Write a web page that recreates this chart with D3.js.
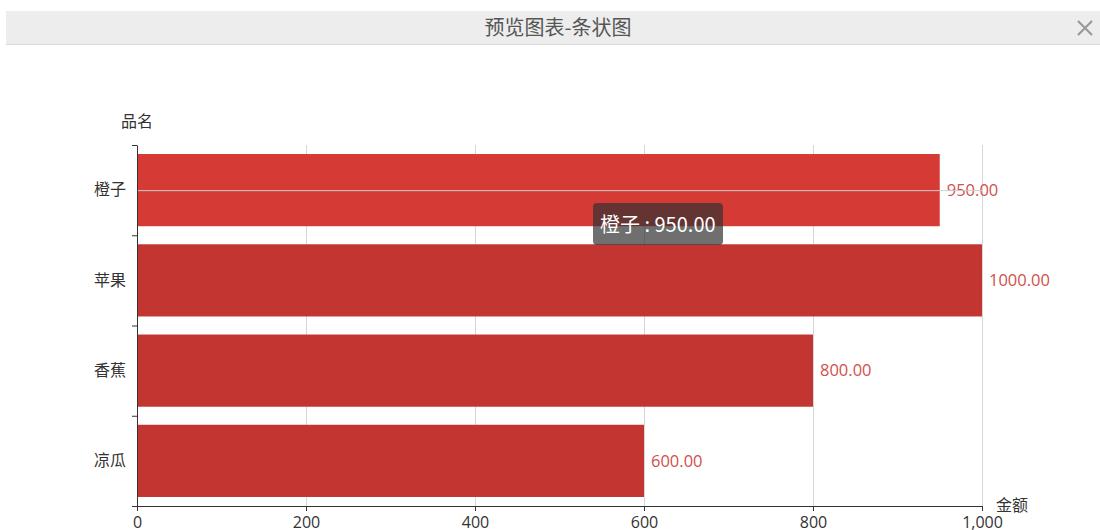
<!DOCTYPE html>
<html lang="zh">
<head>
    <meta charset="UTF-8">
    <title>预览图表-条状图</title>
    <script src="https://d3js.org/d3.v7.min.js"></script>
    <style>
        body { margin: 0; background: #fff; font-family: "Noto Sans CJK SC", "Noto Sans", sans-serif; }
        svg { display: block; }
    </style>
</head>
<body>
<svg id="chart" width="1100" height="530"></svg>
<script>
    // data
    const categories = ["橙子", "苹果", "香蕉", "凉瓜"];
    const amounts = [950, 1000, 800, 600];
    const xTicks = [0, 200, 400, 600, 800, 1000];
    const hoverIndex = 0;

    const svg = d3.select("#chart");
    const plotLeft = 137, plotRight = 982, plotTop = 145, plotBottom = 506;

    // header bar
    svg.append("rect").attr("x", 6).attr("y", 11).attr("width", 1094).attr("height", 33)
        .attr("fill", "#ededed");
    svg.append("line").attr("x1", 6).attr("x2", 1100).attr("y1", 44.5).attr("y2", 44.5)
        .attr("stroke", "#d9d9d9");
    svg.append("text").attr("x", 558).attr("y", 35).attr("text-anchor", "middle")
        .attr("font-size", 20).attr("fill", "#555").text("预览图表-条状图");
    const cx = 1085, cy = 28, s = 7;
    svg.append("path").attr("d", `M${cx - s},${cy - s}L${cx + s},${cy + s}M${cx + s},${cy - s}L${cx - s},${cy + s}`)
        .attr("stroke", "#999").attr("stroke-width", 2.2);

    const x = d3.scaleLinear().domain([0, 1000]).range([plotLeft, plotRight]);
    const y = d3.scaleBand().domain(categories).range([plotTop, plotBottom]).paddingInner(0.2).paddingOuter(0.1);
    const band = d3.scaleBand().domain(categories).range([plotTop, plotBottom]);

    // grid
    svg.append("g").selectAll("line").data(xTicks.slice(1)).join("line")
        .attr("x1", d => x(d) + 0.5).attr("x2", d => x(d) + 0.5)
        .attr("y1", plotTop).attr("y2", plotBottom)
        .attr("stroke", "#d6d6d6");

    // bars
    svg.append("g").selectAll("rect").data(categories).join("rect")
        .attr("x", x(0)).attr("y", d => y(d))
        .attr("width", (d, i) => x(amounts[i]) - x(0))
        .attr("height", y.bandwidth())
        .attr("fill", (d, i) => i === hoverIndex ? "#d63a35" : "#c23531");

    // value labels
    svg.append("g").selectAll("text").data(categories).join("text")
        .attr("x", (d, i) => x(amounts[i]) + 7)
        .attr("y", d => y(d) + y.bandwidth() / 2)
        .attr("dy", "0.35em")
        .attr("font-size", 16.5).attr("fill", "#d0504c")
        .attr("font-family", "'Open Sans', 'Noto Sans', sans-serif")
        .text((d, i) => amounts[i].toFixed(2));

    // axis pointer line
    const hy = band(categories[hoverIndex]) + band.bandwidth() / 2;
    svg.append("line").attr("x1", plotLeft).attr("x2", plotRight).attr("y1", hy + 0.5).attr("y2", hy + 0.5)
        .attr("stroke", "#ccc").attr("stroke-width", 1);

    // x axis
    const xAxis = svg.append("g").attr("transform", `translate(0,${plotBottom})`)
        .call(d3.axisBottom(x).tickValues(xTicks).tickSize(5).tickFormat(d3.format(",")));
    xAxis.select(".domain").attr("stroke", "#333");
    xAxis.selectAll(".tick line").attr("stroke", "#333");
    xAxis.selectAll("text").attr("font-size", 16).attr("fill", "#333").attr("dy", "0.85em")
        .attr("font-family", "'Open Sans', 'Noto Sans', sans-serif");

    // y axis
    const yAxis = svg.append("g").attr("transform", `translate(${plotLeft},0)`)
        .call(d3.axisLeft(band).tickSize(0).tickPadding(11));
    yAxis.select(".domain").attr("stroke", "#333");
    yAxis.selectAll("text").attr("font-size", 16).attr("fill", "#333")
        .attr("font-family", "'Noto Sans CJK SC', sans-serif");
    svg.append("g").selectAll("line").data(d3.range(categories.length + 1)).join("line")
        .attr("x1", plotLeft - 5).attr("x2", plotLeft)
        .attr("y1", i => plotTop + i * band.step() + 0.5).attr("y2", i => plotTop + i * band.step() + 0.5)
        .attr("stroke", "#333");

    // axis names
    svg.append("text").attr("x", plotLeft).attr("y", 127).attr("text-anchor", "middle")
        .attr("font-size", 16).attr("fill", "#333").text("品名");
    svg.append("text").attr("x", 996).attr("y", 511)
        .attr("font-size", 16).attr("fill", "#333").text("金额");

    // tooltip
    const tip = svg.append("g").attr("transform", "translate(593,203)");
    tip.append("rect").attr("width", 130).attr("height", 42).attr("rx", 4)
        .attr("fill", "rgba(50,50,50,0.7)");
    tip.append("text").attr("x", 7).attr("y", 29).attr("font-size", 20).attr("fill", "#fff")
        .attr("font-family", "'Noto Sans CJK SC', sans-serif")
        .text(`${categories[hoverIndex]} : ${amounts[hoverIndex].toFixed(2)}`);
</script>
</body>
</html>
